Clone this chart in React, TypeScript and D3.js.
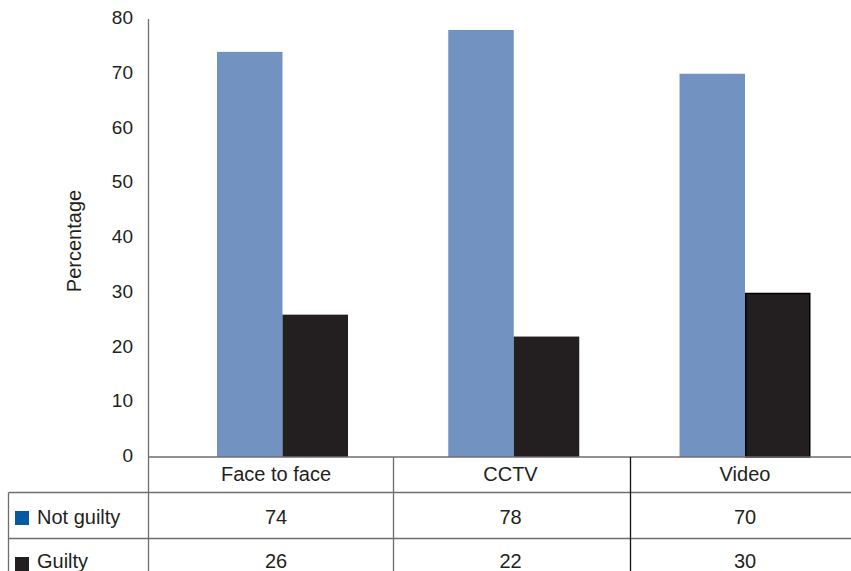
import React from "react";
import * as d3 from "d3";

// Verdict shares by presentation mode
const categories = ["Face to face", "CCTV", "Video"];
const notGuilty = [74, 78, 70];
const guilty = [26, 22, 30];
const yTicks = [0, 10, 20, 30, 40, 50, 60, 70, 80];
const seriesNames = ["Not guilty", "Guilty"];

const W = 851;
const H = 571;
const TEXT = "#231f20";
const BLUE = "#7293c1";
const DARK = "#231f20";
const LEGEND_BLUE = "#065a9e";
const RULE = "#6d6e71";
const FONT = "'Liberation Sans', Arial, sans-serif";

export default function App() {
  const axisX = 148.5;
  const y = d3.scaleLinear().domain([0, 80]).range([457, 19]);
  const barCenter = d3.scalePoint<string>().domain(categories).range([282.5, 745]);
  const textCenter = d3.scalePoint<string>().domain(categories).range([276, 745]);
  const barW = 65.5;

  // data-table geometry
  const colEdges = [148.5, 393.5, 630.5, 851];
  const rowLines = [457, 492.5, 538.5];
  const series = [notGuilty, guilty];
  const swatch = [LEGEND_BLUE, DARK];

  return (
    <div style={{ position: "absolute", left: 0, top: 0 }}>
      <svg width={W} height={H} style={{ display: "block", background: "#fff" }} fontFamily={FONT}>
        {/* bars */}
        {categories.map((c, i) => {
          const cx = barCenter(c)!;
          const outlined = c === "Video";
          return (
            <g key={c}>
              <rect x={cx - barW} y={y(notGuilty[i])} width={barW} height={y(0) - y(notGuilty[i])} fill={BLUE} />
              <rect
                x={cx + (outlined ? 0.75 : 0)}
                y={y(guilty[i]) + (outlined ? 0.75 : 0)}
                width={barW - (outlined ? 1.5 : 0)}
                height={y(0) - y(guilty[i]) - (outlined ? 0.75 : 0)}
                fill={DARK}
                stroke={outlined ? "#000" : "none"}
                strokeWidth={outlined ? 1.5 : 0}
              />
            </g>
          );
        })}

        {/* y axis */}
        <line x1={axisX} x2={axisX} y1={y(80)} y2={H} stroke={RULE} strokeWidth={1.3} />
        {yTicks.map((t) => (
          <text key={t} x={133} y={y(t) + 5} textAnchor="end" fontSize={19} fill={TEXT}>
            {t}
          </text>
        ))}
        <text
          transform={`translate(81,${241}) rotate(-90)`}
          textAnchor="middle"
          fontSize={20}
          fill={TEXT}
        >
          Percentage
        </text>

        {/* data table */}
        <line x1={colEdges[0]} x2={W} y1={rowLines[0]} y2={rowLines[0]} stroke={RULE} strokeWidth={1.3} />
        <line x1={8.5} x2={W} y1={rowLines[1]} y2={rowLines[1]} stroke={RULE} strokeWidth={1.3} />
        <line x1={8.5} x2={W} y1={rowLines[2]} y2={rowLines[2]} stroke={RULE} strokeWidth={1.3} />
        <line x1={8.5} x2={8.5} y1={rowLines[1]} y2={H} stroke={RULE} strokeWidth={1.3} />
        {colEdges.slice(1, 3).map((x, i) => (
          <line key={x} x1={x} x2={x} y1={rowLines[0]} y2={H} stroke={i === 1 ? "#111" : RULE} strokeWidth={1.3} />
        ))}

        {categories.map((c) => (
          <text key={c} x={textCenter(c)} y={481} textAnchor="middle" fontSize={20} fill={TEXT}>
            {c}
          </text>
        ))}
        {series.map((vals, r) => (
          <g key={seriesNames[r]}>
            <rect x={15} y={511 + r * 46} width={14} height={14} fill={swatch[r]} />
            <text x={37} y={524 + r * 44} fontSize={20} fill={TEXT}>
              {seriesNames[r]}
            </text>
            {categories.map((c, i) => (
              <text key={c} x={textCenter(c)} y={524 + r * 44} textAnchor="middle" fontSize={20} fill={TEXT}>
                {vals[i]}
              </text>
            ))}
          </g>
        ))}
      </svg>
    </div>
  );
}
